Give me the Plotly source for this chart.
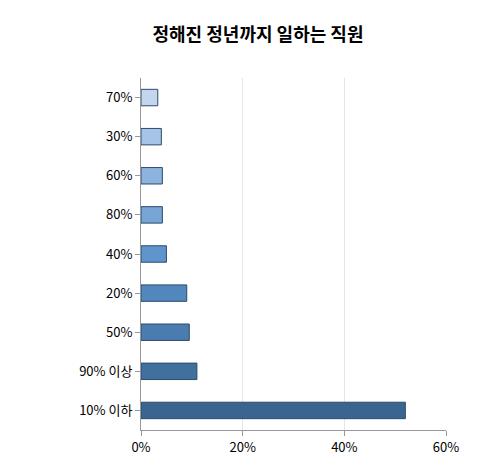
import plotly.graph_objects as go

categories = ["10% 이하", "90% 이상", "50%", "20%", "40%", "80%", "60%", "30%", "70%"]
values = [52, 11, 9.5, 9, 5, 4.2, 4.2, 4, 3.3]
colors = ["#3a6590", "#42709e", "#4a7cb0", "#5287be", "#5f95cc", "#76a5d6", "#8cb4de", "#a6c4e6", "#c3d6ee"]

fig = go.Figure(go.Bar(
    y=categories, x=values, orientation="h",
    marker=dict(color=colors, line=dict(color="#2c4a6a", width=1)),
    width=0.42,
))
fig.update_layout(
    width=500, height=460,
    paper_bgcolor="white", plot_bgcolor="white",
    margin=dict(l=133, r=62, t=70, b=38),
    title=dict(text="<b>정해진 정년까지 일하는 직원</b>", x=0.5, y=0.955, xanchor="center",
               font=dict(family="Noto Sans CJK KR", size=18, color="black")),
    font=dict(family="Noto Sans CJK KR", size=13, color="black"),
    showlegend=False,
)
fig.update_xaxes(range=[0, 60], tickvals=[0, 20, 40, 60], ticktext=["0%", "20%", "40%", "60%"],
                 showgrid=True, gridcolor="#e6e6e6", zeroline=False,
                 showline=True, linecolor="#999", ticks="outside", tickcolor="#999")
fig.update_yaxes(showline=True, linecolor="#999", ticks="outside", tickcolor="#999", ticklen=5)
fig.write_html("out.html")
